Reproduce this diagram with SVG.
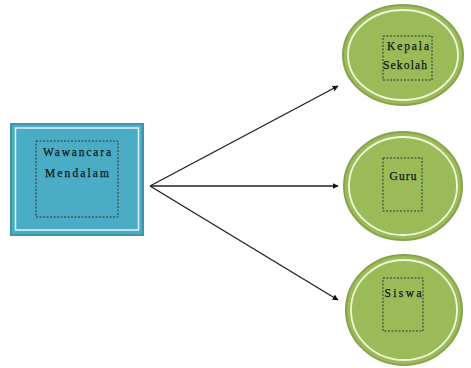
<svg xmlns="http://www.w3.org/2000/svg" width="471" height="368" viewBox="0 0 471 368">
<style>
.txt{font-family:"Liberation Serif","Times New Roman",serif;font-size:11.5px;fill:#0d1a1a;text-anchor:middle;stroke:#0d1a1a;stroke-width:0.25}
.dash{fill:none;stroke:#2a3a3a;stroke-width:1;stroke-dasharray:2,1.5}
.ell{fill:#9bbb59;stroke:#86a44c;stroke-width:2}
.ring{fill:none;stroke:#f0f6dc;stroke-width:1.8}
.conn{stroke:#222;stroke-width:1.4;fill:none;marker-end:url(#arr)}
</style>
<defs>
<marker id="arr" viewBox="0 0 10 10" refX="9" refY="5" markerWidth="6" markerHeight="6" orient="auto" markerUnits="userSpaceOnUse">
<path d="M0,0 L10,5 L0,10 z" fill="#111"/>
</marker>
</defs>
<rect width="471" height="368" fill="#fff"/>
<g id="connectors">
<line class="conn" x1="150" y1="186" x2="338" y2="86"/>
<line class="conn" x1="150" y1="186" x2="338" y2="186"/>
<line class="conn" x1="150" y1="186" x2="338" y2="300"/>
</g>
<g id="wawancara">
<rect x="11" y="124" width="132" height="111" fill="#4bacc6" stroke="#3d95ad" stroke-width="2"/>
<rect x="15.5" y="128" width="123" height="102" fill="none" stroke="#e0f3f8" stroke-width="1.5"/>
<rect class="dash" x="36" y="141" width="82" height="76"/>
<text class="txt" x="77" y="156" textLength="68" lengthAdjust="spacing">Wawancara</text>
<text class="txt" x="77" y="177" textLength="64" lengthAdjust="spacing">Mendalam</text>
</g>
<g id="kepala">
<ellipse class="ell" cx="403" cy="55" rx="60" ry="50"/>
<ellipse class="ring" cx="403" cy="55" rx="55" ry="45"/>
<rect class="dash" x="383" y="36" width="49" height="44"/>
<text class="txt" x="408" y="50" textLength="42" lengthAdjust="spacing">Kepala</text>
<text class="txt" x="405" y="69" textLength="44" lengthAdjust="spacing">Sekolah</text>
</g>
<g id="guru">
<ellipse class="ell" cx="403" cy="186" rx="59" ry="54"/>
<ellipse class="ring" cx="403" cy="186" rx="54" ry="49"/>
<rect class="dash" x="383" y="158" width="39" height="53"/>
<text class="txt" x="403" y="180" textLength="27" lengthAdjust="spacing">Guru</text>
</g>
<g id="siswa">
<ellipse class="ell" cx="404" cy="310" rx="58" ry="55"/>
<ellipse class="ring" cx="404" cy="310" rx="53" ry="50"/>
<rect class="dash" x="383" y="278" width="40" height="53"/>
<text class="txt" x="403" y="297" textLength="37" lengthAdjust="spacing">Siswa</text>
</g>
</svg>
